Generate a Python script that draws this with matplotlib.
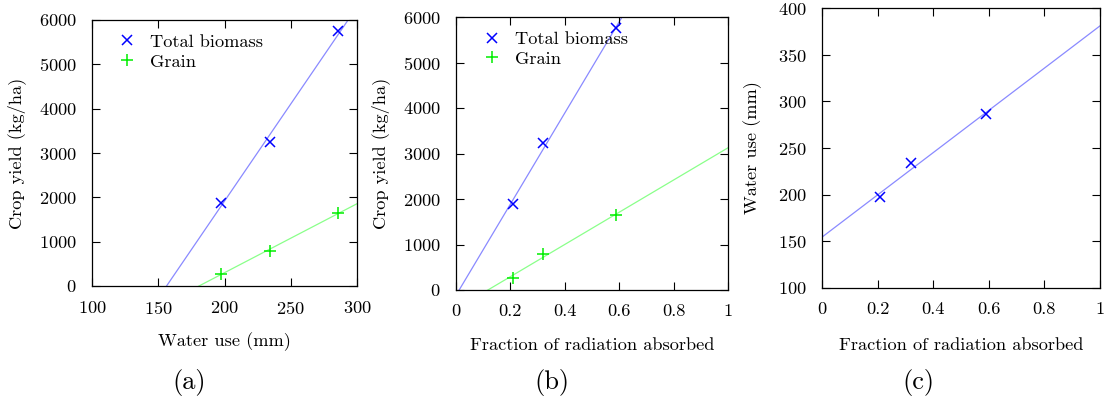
import numpy as np
import matplotlib
matplotlib.use("Agg")
import matplotlib.pyplot as plt

plt.rcParams['font.family'] = 'serif'
plt.rcParams['font.serif'] = ['cmr10', 'DejaVu Serif']
plt.rcParams['mathtext.fontset'] = 'cm'
plt.rcParams['axes.formatter.use_mathtext'] = True

# Data
water_use = [197, 234, 286]          # mm
radiation = [0.21, 0.32, 0.59]       # fraction absorbed
biomass = [1880, 3240, 5750]         # kg/ha
grain = [270, 800, 1650]             # kg/ha

W, H = 1110, 398
fig = plt.figure(figsize=(W / 100, H / 100), dpi=100)

def add_ax(l, r, t, b):
    return fig.add_axes([l / W, 1 - b / H, (r - l) / W, (b - t) / H])

FS = 13.2
BLUE_LINE = '#8a8aff'
GREEN_LINE = '#8aff8a'

def style(ax, xl, yl, xlab_y, ylab_x):
    ax.tick_params(direction='in', top=True, right=True, length=6, width=0.8,
                   labelsize=FS)
    ax.tick_params(axis='x', pad=10)
    ax.tick_params(axis='y', pad=11)
    for s in ax.spines.values():
        s.set_linewidth(0.9)
    ax.set_xlabel(xl, fontsize=FS)
    ax.set_ylabel(yl, fontsize=FS)
    ax.xaxis.label.set_va('center')
    ax.yaxis.label.set_va('center')
    ax.xaxis.set_label_coords(0.5, xlab_y)
    ax.yaxis.set_label_coords(ylab_x, 0.5)

def fitline(ax, x, y, xr, color):
    k, c = np.polyfit(x, y, 1)
    xs = np.array(xr)
    ax.plot(xs, k * xs + c, color=color, lw=0.9, zorder=1)

def legend(ax, x0, y0):
    ax.legend(loc='upper left', frameon=False, fontsize=FS, handletextpad=0.76,
              borderaxespad=0.0, bbox_to_anchor=(x0, y0), labelspacing=0.22,
              handlelength=1.0)

MS_X, MS_P = 6.5, 8

# (a)
ax1 = add_ax(92, 357, 20, 286)
fitline(ax1, water_use, biomass, [100, 300], BLUE_LINE)
fitline(ax1, water_use, grain, [100, 300], GREEN_LINE)
ax1.plot(water_use, biomass, 'x', color='blue', ms=MS_X, mew=1.1, ls='none', label='Total biomass')
ax1.plot(water_use, grain, '+', color='#00ee00', ms=MS_P, mew=1.1, ls='none', label='Grain')
ax1.set_xlim(100, 300)
ax1.set_ylim(0, 6000)
ax1.set_xticks([100, 150, 200, 250, 300])
ax1.set_yticks(range(0, 6001, 1000))
style(ax1, 'Water use (mm)', 'Crop yield (kg/ha)', -0.2105, -0.283)
legend(ax1, 0.07, 0.975)

# (b)
ax2 = add_ax(456, 728, 17, 290)
fitline(ax2, radiation, biomass, [0, 1], BLUE_LINE)
fitline(ax2, radiation, grain, [0, 1], GREEN_LINE)
ax2.plot(radiation, biomass, 'x', color='blue', ms=MS_X, mew=1.1, ls='none', label='Total biomass')
ax2.plot(radiation, grain, '+', color='#00ee00', ms=MS_P, mew=1.1, ls='none', label='Grain')
ax2.set_xlim(0, 1)
ax2.set_ylim(0, 6000)
ax2.set_xticks([0, 0.2, 0.4, 0.6, 0.8, 1])
ax2.set_xticklabels(['0', '0.2', '0.4', '0.6', '0.8', '1'])
ax2.set_yticks(range(0, 6001, 1000))
style(ax2, 'Fraction of radiation absorbed', 'Crop yield (kg/ha)', -0.2015, -0.279)
legend(ax2, 0.072, 0.975)

# (c)
ax3 = add_ax(822, 1100, 8, 288)
fitline(ax3, radiation, water_use, [0, 1], BLUE_LINE)
ax3.plot(radiation, water_use, 'x', color='blue', ms=MS_X, mew=1.1, ls='none')
ax3.set_xlim(0, 1)
ax3.set_ylim(100, 400)
ax3.set_xticks([0, 0.2, 0.4, 0.6, 0.8, 1])
ax3.set_xticklabels(['0', '0.2', '0.4', '0.6', '0.8', '1'])
ax3.set_yticks(range(100, 401, 50))
style(ax3, 'Fraction of radiation absorbed', 'Water use (mm)', -0.2036, -0.248)

# captions
for x, lab in [(189, '(a)'), (552, '(b)'), (918, '(c)')]:
    fig.text(x / W, 1 - 383 / H, lab, ha='center', va='center', fontsize=19)

fig.savefig('out.png', dpi=100)
